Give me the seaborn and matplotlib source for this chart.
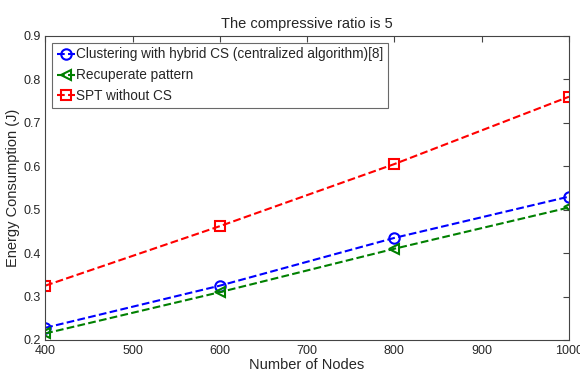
import pandas as pd
import seaborn as sns
import matplotlib.pyplot as plt

nodes = [400, 600, 800, 1000]
hybrid_cs = [0.228, 0.325, 0.435, 0.530]
recuperate = [0.215, 0.310, 0.410, 0.505]
spt_no_cs = [0.325, 0.462, 0.605, 0.760]
labels = ['Clustering with hybrid CS (centralized algorithm)[8]',
          'Recuperate pattern', 'SPT without CS']

df = pd.DataFrame({
    'nodes': nodes * 3,
    'energy': hybrid_cs + recuperate + spt_no_cs,
    'method': [labels[0]] * 4 + [labels[1]] * 4 + [labels[2]] * 4,
})

sns.set_style('white')
plt.rcParams['font.family'] = ['Liberation Sans', 'DejaVu Sans']
plt.rcParams['xtick.direction'] = 'in'
plt.rcParams['ytick.direction'] = 'in'

fig = plt.figure(figsize=(5.8, 3.74), dpi=100)
ax = fig.add_axes([0.078, 0.091, 0.903, 0.813])

colors = ['#0000ff', '#008000', '#ff0000']
markers = ['o', '<', 's']
for lab, c, m in zip(labels, colors, markers):
    sub = df[df['method'] == lab]
    sns.lineplot(data=sub, x='nodes', y='energy', ax=ax, color=c, linestyle='--',
                 linewidth=1.5, marker=m, markersize=7.5, markerfacecolor='none',
                 markeredgecolor=c, markeredgewidth=1.5, label=lab)

ax.set_xlim(400, 1000)
ax.set_ylim(0.2, 0.9)
ax.set_xticks([400, 500, 600, 700, 800, 900, 1000])
ax.set_yticks([0.2, 0.3, 0.4, 0.5, 0.6, 0.7, 0.8, 0.9])
ax.set_yticklabels(['0.2', '0.3', '0.4', '0.5', '0.6', '0.7', '0.8', '0.9'])
ax.tick_params(labelsize=9, length=4, top=True, right=True, color='#444444')
for s in ax.spines.values():
    s.set_color('#444444')
    s.set_linewidth(0.8)
ax.set_xlabel('Number of Nodes', fontsize=10.5, labelpad=1)
ax.set_ylabel('Energy Consumption (J)', fontsize=10.5, labelpad=2)
ax.set_title('The compressive ratio is 5', fontsize=10.5, pad=6)

leg = ax.legend(loc='upper left', fontsize=9.8, frameon=True, fancybox=False,
                handlelength=1.3, handletextpad=0.1, borderpad=0.35, labelspacing=0.5,
                borderaxespad=0.5)
leg.get_frame().set_edgecolor('#444444')
leg.get_frame().set_linewidth(0.8)

fig.savefig('out.png', dpi=100)
